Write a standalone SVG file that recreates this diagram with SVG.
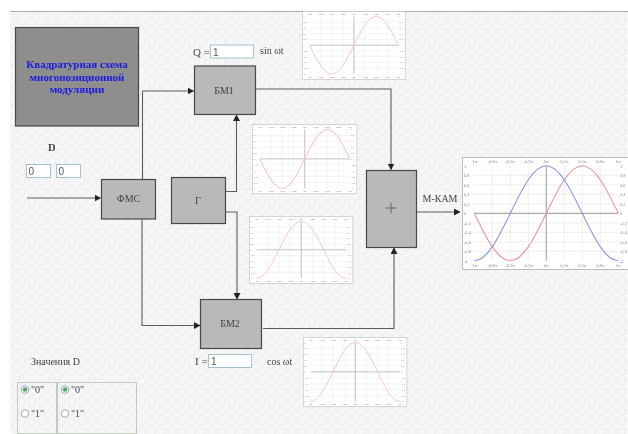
<svg xmlns="http://www.w3.org/2000/svg" width="628" height="434" viewBox="0 0 628 434">
<style>
text{font-family:"Liberation Serif","Times New Roman",serif;fill:#444}
.block{fill:#b9b9b9;stroke:#484848;stroke-width:1.2}
.lbl{font-size:10px;text-anchor:middle}
.t{font-size:10px}
.input{fill:#fff;stroke:#a9c0d0;stroke-width:1}
.val{font-family:"Liberation Sans",sans-serif;font-size:10px;fill:#555}
.wire{fill:none;stroke:#5c5c5c;stroke-width:1.1;marker-end:url(#arr)}
.grid{stroke:#eaeaea;stroke-width:.8;fill:none}
.axis{stroke:#aaa;stroke-width:1.2;fill:none}
.tick{font-family:"Liberation Sans",sans-serif;font-size:4px;fill:#8a8a8a}
.panel{fill:none;stroke:#c3c9bc;stroke-width:1}
.radio{fill:#fdfdfd;stroke:#8fa3b5;stroke-width:.9}
.dot{fill:#48a860}
.sinc{fill:none;stroke:#f4c4cc;stroke-width:1.6}
.cosc{fill:none;stroke:#f4c4cc;stroke-width:1.6}
.head{fill:#1a1ae0;font-size:11px;font-weight:bold;text-anchor:middle}
</style>
<defs>
<pattern id="paper" width="10" height="10" patternUnits="userSpaceOnUse">
<rect width="10" height="10" fill="#f4f4f4"/>
<rect x="0" y="0" width="5" height="5" fill="#f7f7f7"/>
<rect x="5" y="5" width="5" height="5" fill="#f6f6f6"/>
<path d="M0 .5h5M5 5.500h5" stroke="#fbfbfb" stroke-width="1" fill="none"/>
<path d="M0 4.500h5M5 9.500h5M4.500 0v5M9.500 5v5" stroke="#eeeeee" stroke-width="1" fill="none"/>
</pattern>
<filter id="soft" x="-2%" y="-2%" width="104%" height="104%"><feGaussianBlur stdDeviation="0.4"/></filter>
<filter id="softT" x="-2%" y="-2%" width="104%" height="104%"><feGaussianBlur stdDeviation="0.3"/></filter>
<marker id="arr" markerUnits="userSpaceOnUse" markerWidth="7" markerHeight="7" refX="6" refY="3.500" orient="auto"><path d="M0 0L6.500 3.500L0 7z" fill="#222"/></marker>
<g id="frame">
<rect x=".5" y=".5" width="167" height="112" fill="#fff" stroke="#bbb" stroke-width="1"/>
<path class="grid" d="M30.300 8.800V103.800M48.300 8.800V103.800M66.300 8.800V103.800M102.300 8.800V103.800M120.300 8.800V103.800M138.300 8.800V103.800M12.300 18.300H156.300M12.300 27.800H156.300M12.300 37.300H156.300M12.300 46.800H156.300M12.300 65.800H156.300M12.300 75.300H156.300M12.300 84.800H156.300M12.300 94.300H156.300"/>
<path class="axis" d="M12.300 56.300H156.300M84.300 8.800V103.800"/>
<g text-anchor="middle"><text x="12.300" y="6" class="tick">-1π</text><text x="30.300" y="6" class="tick">-0,8π</text><text x="48.300" y="6" class="tick">-0,5π</text><text x="66.300" y="6" class="tick">-0,2π</text><text x="84.300" y="6" class="tick">0π</text><text x="102.300" y="6" class="tick">0,2π</text><text x="120.300" y="6" class="tick">0,5π</text><text x="138.300" y="6" class="tick">0,8π</text><text x="156.300" y="6" class="tick">1π</text>
<text x="12.300" y="110" class="tick">-1π</text><text x="30.300" y="110" class="tick">-0,8π</text><text x="48.300" y="110" class="tick">-0,5π</text><text x="66.300" y="110" class="tick">-0,2π</text><text x="84.300" y="110" class="tick">0π</text><text x="102.300" y="110" class="tick">0,2π</text><text x="120.300" y="110" class="tick">0,5π</text><text x="138.300" y="110" class="tick">0,8π</text><text x="156.300" y="110" class="tick">1π</text></g>
<g><text x="2" y="10.500" class="tick">1</text><text x="2" y="20" class="tick">0,8</text><text x="2" y="29.500" class="tick">0,6</text><text x="2" y="39" class="tick">0,4</text><text x="2" y="48.500" class="tick">0,2</text><text x="2" y="58" class="tick">0</text><text x="2" y="67.500" class="tick">-0,2</text><text x="2" y="77" class="tick">-0,4</text><text x="2" y="86.500" class="tick">-0,6</text><text x="2" y="96" class="tick">-0,8</text><text x="2" y="105.500" class="tick">-1</text>
<text x="158" y="10.500" class="tick">1</text><text x="158" y="20" class="tick">0,8</text><text x="158" y="29.500" class="tick">0,6</text><text x="158" y="39" class="tick">0,4</text><text x="158" y="48.500" class="tick">0,2</text><text x="158" y="58" class="tick">0</text><text x="158" y="67.500" class="tick">-0,2</text><text x="158" y="77" class="tick">-0,4</text><text x="158" y="86.500" class="tick">-0,6</text><text x="158" y="96" class="tick">-0,8</text><text x="158" y="105.500" class="tick">-1</text></g>
</g>
<path id="sinp" d="M12.300 56.300c11.750 24.300 22.970 47.500 36 47.500c13.030 0 24.250 -23.200 36 -47.500c11.750 -24.300 22.970 -47.500 36 -47.500c13.030 0 24.250 23.200 36 47.500"/>
<path id="cosp" d="M12.300 103.800c13.030 0 24.250 -23.200 36 -47.500c11.750 -24.300 22.970 -47.500 36 -47.500c13.030 0 24.250 23.200 36 47.500c11.750 24.300 22.970 47.500 36 47.500"/>
</defs>

<rect width="628" height="434" fill="#fff"/>
<rect x="10" y="11" width="618" height="423" fill="url(#paper)"/>
<path d="M10 11.500H628" stroke="#aaa" stroke-width="1"/>

<g id="charts" filter="url(#soft)">
<g id="chart-q" transform="translate(302 11) scale(.616 .607)"><use href="#frame"/><use href="#sinp" class="sinc"/></g>
<g id="chart-sin" transform="translate(252 124) scale(.626 .62)"><use href="#frame"/><use href="#sinp" class="sinc"/></g>
<g id="chart-cos" transform="translate(249 216) scale(.62 .6)"><use href="#frame"/><use href="#cosp" class="cosc"/></g>
<g id="chart-i" transform="translate(303 337) scale(.62 .62)"><use href="#frame"/><use href="#cosp" class="cosc"/></g>
<g id="chart-out" transform="translate(462 157)"><use href="#frame"/><use href="#sinp" fill="none" stroke="#e8949e" stroke-width="1.1"/><use href="#cosp" fill="none" stroke="#9292e2" stroke-width="1.1"/></g>
</g>

<g id="connectors">
<path class="wire" d="M27 198H100.500"/>
<path class="wire" d="M142.500 179V91H193.500"/>
<path class="wire" d="M142 219V325.500H200"/>
<path class="wire" d="M225 191.500H236.500V115"/>
<path class="wire" d="M225 212H237V299"/>
<path class="wire" d="M255 89H391V169.500"/>
<path class="wire" d="M263 328.500H394V248"/>
<path class="wire" d="M417 212H460"/>
</g>

<g id="title"><rect x="15.500" y="27.500" width="123" height="98.500" fill="#8e8e8e" stroke="#484848" stroke-width="1.200"/>
<g filter="url(#softT)"><text class="head" x="77" y="68">Квадратурная схема</text><text class="head" x="77" y="80.500">многопозиционной</text><text class="head" x="77" y="93">модуляции</text></g></g>
<g id="bm1"><rect class="block" x="194.500" y="66" width="61" height="48.500"/><text class="lbl" x="224" y="94" filter="url(#softT)">БМ1</text></g>
<g id="fms"><rect class="block" x="101.500" y="179.500" width="54" height="39.500"/><text class="lbl" x="128.500" y="202" filter="url(#softT)">ФМС</text></g>
<g id="gen"><rect class="block" x="171.500" y="177.500" width="54" height="46"/><text class="lbl" x="198" y="204" filter="url(#softT)">Г</text></g>
<g id="bm2"><rect class="block" x="200.500" y="299.500" width="61" height="49"/><text class="lbl" x="230" y="327" filter="url(#softT)">БМ2</text></g>
<g id="sum"><rect class="block" x="366.500" y="170.500" width="50" height="77"/><path d="M385.500 208H396.500M391 202.500V213.500" stroke="#666" stroke-width="1" fill="none"/></g>

<g id="labels">
<g filter="url(#softT)">
<text class="t" x="422.500" y="202">М-КАМ</text>
<text x="193" y="56" style="font-size:11px">Q =</text>
<text class="t" x="260" y="54">sin ωt</text>
<text x="48" y="151" style="font-size:10.500px;font-weight:bold">D</text>
<text x="195" y="365" style="font-size:11px">I =</text>
<text class="t" x="267" y="365">cos ωt</text>
<text class="t" x="31" y="365">Значения D</text>
</g>
<rect class="input" x="210.500" y="45" width="43" height="13"/><text class="val" x="213" y="55.500">1</text>
<rect class="input" x="26.500" y="164.500" width="24" height="13"/><text class="val" x="28.500" y="175">0</text>
<rect class="input" x="56.500" y="164.500" width="24" height="13"/><text class="val" x="58.500" y="175">0</text>
<rect class="input" x="208.500" y="354.500" width="43" height="13"/><text class="val" x="211" y="365">1</text>
</g>

<g id="radios">
<rect class="panel" x="17.500" y="382.500" width="39" height="51"/>
<rect class="panel" x="57.500" y="382.500" width="79" height="51"/>
<circle class="radio" cx="25" cy="389.500" r="3.800"/><circle class="dot" cx="25" cy="389.500" r="2.200"/><text class="t" x="31" y="392.500">"0"</text>
<circle class="radio" cx="25" cy="413.500" r="3.800"/><text class="t" x="31" y="416.500">"1"</text>
<circle class="radio" cx="65" cy="389.500" r="3.800"/><circle class="dot" cx="65" cy="389.500" r="2.200"/><text class="t" x="71" y="392.500">"0"</text>
<circle class="radio" cx="65" cy="413.500" r="3.800"/><text class="t" x="71" y="416.500">"1"</text>
</g>
</svg>
